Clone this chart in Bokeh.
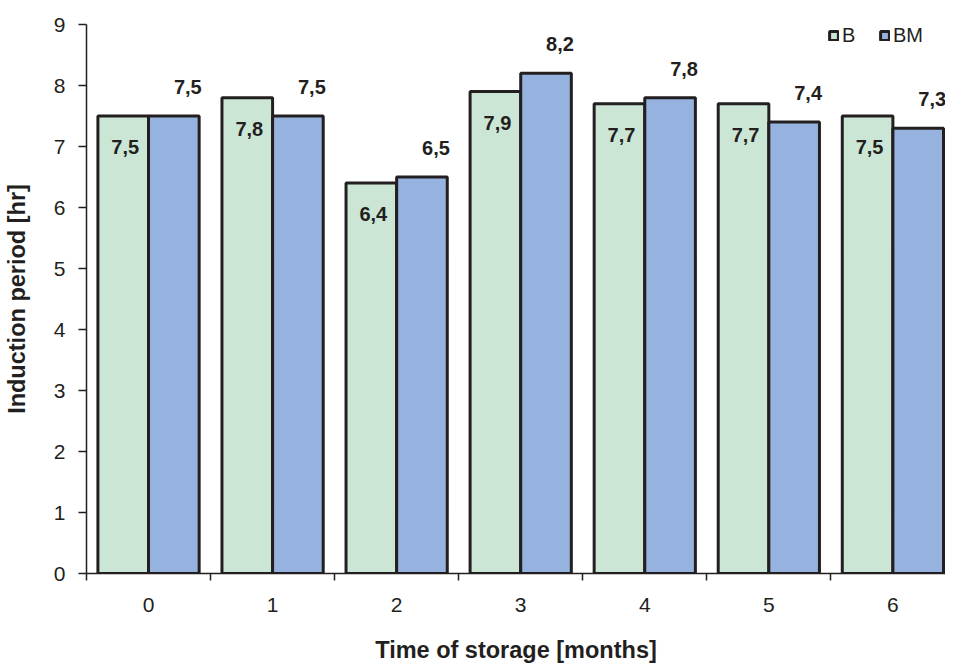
from bokeh.plotting import figure
from bokeh.models import ColumnDataSource, Range1d, FixedTicker, Legend, LegendItem
from bokeh.transform import dodge
from bokeh.core.properties import value
from bokeh.embed import file_html
from bokeh.resources import INLINE

# ---- data ----
months = [0, 1, 2, 3, 4, 5, 6]
b_values = [7.5, 7.8, 6.4, 7.9, 7.7, 7.7, 7.5]
bm_values = [7.5, 7.5, 6.5, 8.2, 7.8, 7.4, 7.3]
series_names = ["B", "BM"]
y_ticks = [0, 1, 2, 3, 4, 5, 6, 7, 8, 9]
x_title = "Time of storage [months]"
y_title = "Induction period [hr]"


def fmt(v):
    return f"{v:.1f}".replace(".", ",")


src = ColumnDataSource(dict(
    x=months,
    b=b_values,
    bm=bm_values,
    b_lab=[fmt(v) for v in b_values],
    bm_lab=[fmt(v) for v in bm_values],
))

FONT = "Liberation Sans"
DARK = "#231F20"
GREEN = "#CCE6D6"
BLUE = "#95B3DE"
BW = 0.408

p = figure(
    frame_width=859, frame_height=549,
    x_range=Range1d(-0.5, 6.424), y_range=Range1d(0, 9),
    output_backend="svg", toolbar_location=None,
    min_border_left=10, min_border_right=0, min_border_top=24, min_border_bottom=10,
)
p.outline_line_color = None
p.grid.visible = False
p.background_fill_color = "white"

r_b = p.vbar(x=dodge("x", -BW / 2, range=p.x_range), top="b", width=BW, source=src,
             fill_color=GREEN, line_color=DARK, line_width=3)
r_bm = p.vbar(x=dodge("x", BW / 2, range=p.x_range), top="bm", width=BW, source=src,
              fill_color=BLUE, line_color=DARK, line_width=3)

common = dict(text_align="center", text_baseline="middle", text_font=value(FONT),
              text_font_style="bold", text_font_size="20px", text_color=DARK, source=src)
p.text(x=dodge("x", -BW / 2, range=p.x_range), y="b", text="b_lab", x_offset=2, y_offset=31, **common)
p.text(x=dodge("x", BW / 2, range=p.x_range), y="bm", text="bm_lab", x_offset=14, y_offset=-29, **common)

# axes
xa = p.xaxis[0]
xa.ticker = FixedTicker(ticks=months, minor_ticks=[m - 0.5 for m in months] + [months[-1] + 0.5])
xa.major_tick_out = 0
xa.major_tick_in = 0
xa.minor_tick_out = 7
xa.minor_tick_in = 0
xa.minor_tick_line_color = DARK
xa.minor_tick_line_width = 1.5
xa.axis_line_color = DARK
xa.axis_line_width = 1.5
xa.major_label_text_font = FONT
xa.major_label_text_font_size = "21px"
xa.major_label_text_color = DARK
xa.major_label_standoff = 17
xa.axis_label = x_title
xa.axis_label_text_font = FONT
xa.axis_label_text_font_style = "bold"
xa.axis_label_text_font_size = "23.5px"
xa.axis_label_text_color = DARK
xa.axis_label_standoff = 22

ya = p.yaxis[0]
ya.ticker = FixedTicker(ticks=y_ticks, minor_ticks=[])
ya.major_tick_out = 8
ya.major_tick_in = 0
ya.major_tick_line_color = DARK
ya.major_tick_line_width = 1.5
ya.axis_line_color = DARK
ya.axis_line_width = 1.5
ya.major_label_text_font = FONT
ya.major_label_text_font_size = "21px"
ya.major_label_text_color = DARK
ya.major_label_standoff = 13
ya.axis_label = y_title
ya.axis_label_text_font = FONT
ya.axis_label_text_font_style = "bold"
ya.axis_label_text_font_size = "23.5px"
ya.axis_label_text_color = DARK
ya.axis_label_standoff = 21

legend = Legend(
    items=[LegendItem(label=series_names[0], renderers=[r_b]),
           LegendItem(label=series_names[1], renderers=[r_bm])],
    orientation="horizontal", location=(742, 526),
    glyph_width=11, glyph_height=11, label_standoff=3, spacing=17,
    padding=0, margin=0, border_line_color=None, background_fill_alpha=0,
    label_text_font=FONT, label_text_font_size="20px", label_text_color=DARK,
)
p.add_layout(legend)

open("out.html", "w").write(file_html(p, INLINE))
